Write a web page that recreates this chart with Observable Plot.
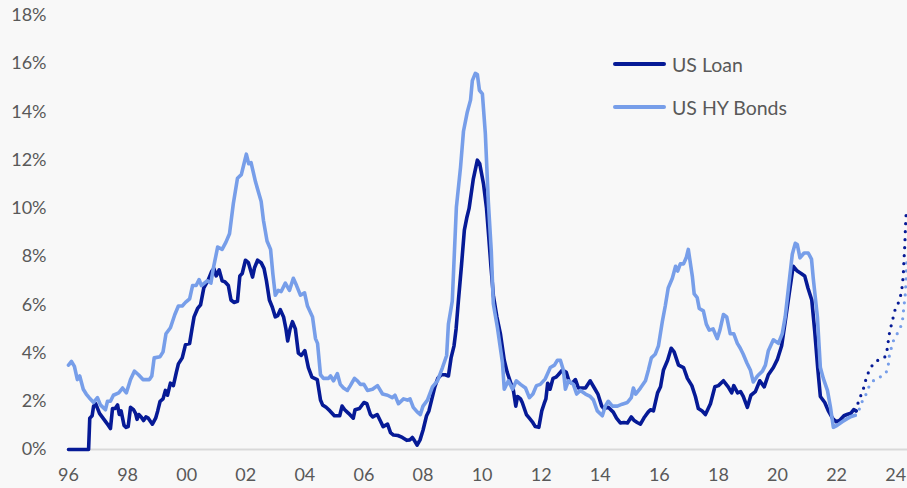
<!DOCTYPE html>
<html>
<head>
<meta charset="utf-8">
<script src="https://cdn.jsdelivr.net/npm/d3@7"></script>
<script src="https://cdn.jsdelivr.net/npm/@observablehq/plot@0.6"></script>
<style>
  html, body { margin: 0; padding: 0; background: #f8f8f8; }
  #wrap { position: relative; width: 907px; height: 488px; background: #f8f8f8; font-family: Lato, "Open Sans", sans-serif; }
  #legend { position: absolute; left: 613px; top: 0; }
  .item { position: absolute; left: 0; display: flex; align-items: center; white-space: nowrap; height: 24px; }
  .swatch { width: 53px; height: 4px; border-radius: 2px; margin-right: 6px; }
  .label { font-size: 19.5px; color: #595959; }
</style>
</head>
<body>
<div id="wrap">
  <div id="chart"></div>
  <div id="legend"></div>
</div>
<script>
// ---- Data (decimal years, default rates in %) ----
const seriesNames = ["US Loan", "US HY Bonds"];
const seriesColors = ["#061a96", "#779ee9"];

const loanYears = [1996.0,1996.68,1996.72,1996.8,1996.85,1996.92,1997.05,1997.2,1997.35,1997.42,1997.49,1997.58,1997.66,1997.72,1997.78,1997.88,1997.95,1998.02,1998.1,1998.2,1998.27,1998.32,1998.38,1998.46,1998.54,1998.62,1998.7,1998.84,1998.95,1999.02,1999.1,1999.2,1999.28,1999.35,1999.45,1999.55,1999.65,1999.72,1999.85,1999.96,2000.1,2000.18,2000.25,2000.37,2000.47,2000.58,2000.72,2000.85,2000.92,2001.0,2001.1,2001.2,2001.3,2001.41,2001.5,2001.6,2001.72,2001.8,2001.88,2001.99,2002.09,2002.23,2002.3,2002.4,2002.52,2002.62,2002.7,2002.8,2002.9,2003.0,2003.08,2003.17,2003.28,2003.36,2003.42,2003.5,2003.58,2003.68,2003.78,2003.88,2004.0,2004.12,2004.24,2004.42,2004.53,2004.6,2004.72,2004.85,2005.0,2005.18,2005.26,2005.35,2005.48,2005.64,2005.7,2005.85,2006.0,2006.1,2006.22,2006.3,2006.45,2006.55,2006.65,2006.8,2006.9,2007.0,2007.15,2007.3,2007.45,2007.56,2007.64,2007.72,2007.8,2007.9,2008.0,2008.12,2008.2,2008.3,2008.4,2008.5,2008.62,2008.75,2008.86,2008.95,2009.05,2009.12,2009.2,2009.3,2009.4,2009.48,2009.56,2009.7,2009.84,2009.92,2010.05,2010.15,2010.22,2010.3,2010.38,2010.5,2010.62,2010.75,2010.85,2010.96,2011.06,2011.14,2011.2,2011.3,2011.36,2011.5,2011.6,2011.7,2011.8,2011.92,2012.02,2012.1,2012.16,2012.22,2012.3,2012.4,2012.5,2012.58,2012.72,2012.85,2012.95,2013.05,2013.16,2013.26,2013.4,2013.5,2013.66,2013.8,2013.92,2014.05,2014.12,2014.27,2014.44,2014.55,2014.68,2014.8,2014.92,2015.05,2015.15,2015.25,2015.36,2015.5,2015.62,2015.7,2015.8,2015.94,2016.04,2016.14,2016.28,2016.4,2016.5,2016.65,2016.82,2016.95,2017.1,2017.22,2017.32,2017.45,2017.56,2017.73,2017.88,2018.0,2018.17,2018.33,2018.45,2018.52,2018.65,2018.75,2018.84,2018.98,2019.1,2019.25,2019.4,2019.55,2019.69,2019.86,2020.0,2020.14,2020.26,2020.4,2020.53,2020.67,2020.8,2020.92,2021.03,2021.16,2021.26,2021.36,2021.45,2021.6,2021.72,2021.86,2021.98,2022.1,2022.25,2022.35,2022.48,2022.58,2022.66];
const loanValues = [0,0,1.3,1.4,1.8,1.9,1.5,1.25,1.0,0.87,1.7,1.7,1.85,1.45,1.6,1.0,0.92,0.95,1.75,1.65,1.5,1.25,1.45,1.35,1.2,1.35,1.3,1.05,1.3,1.6,2.0,2.1,2.45,2.25,2.75,2.65,3.2,3.55,3.8,4.35,4.4,5.0,5.5,5.85,6.0,6.7,7.0,7.4,7.5,7.2,7.45,7.0,6.95,6.8,6.2,6.1,6.15,7.2,7.3,7.85,7.75,7.15,7.55,7.85,7.75,7.5,7.0,6.2,5.9,5.5,5.55,5.8,5.5,5.0,4.5,5.0,5.3,5.0,4.0,3.9,4.1,3.4,3.0,2.9,2.05,1.85,1.75,1.6,1.4,1.4,1.8,1.65,1.5,1.3,1.65,1.7,1.95,1.9,1.45,1.35,1.45,1.2,0.95,1.05,0.7,0.6,0.58,0.5,0.38,0.4,0.5,0.35,0.18,0.4,0.8,1.4,1.6,2.1,2.6,2.95,3.1,3.1,3.05,3.8,4.3,5.0,6.2,7.6,9.1,9.6,10.0,11.2,12.0,11.85,11.0,10.0,8.9,7.6,6.4,5.5,4.8,3.7,3.2,2.8,2.45,1.8,2.2,2.1,1.95,1.45,1.3,1.15,0.95,0.92,1.6,1.9,2.1,2.75,2.5,2.95,3.0,3.1,3.3,3.2,2.8,2.75,2.9,2.55,2.55,2.55,2.85,2.55,2.3,1.8,1.7,1.75,1.55,1.3,1.1,1.12,1.1,1.35,1.2,1.12,1.05,1.35,1.55,1.65,1.6,2.35,2.6,3.3,3.7,4.2,4.05,3.5,3.4,2.95,2.65,2.2,1.7,1.6,1.45,1.9,2.6,2.65,2.85,2.6,2.35,2.65,2.35,2.4,2.2,1.75,2.25,2.4,2.85,2.6,3.1,3.4,3.75,4.3,5.3,6.5,7.6,7.4,7.3,7.2,6.7,6.2,4.9,3.4,2.2,1.95,1.6,1.3,1.15,1.2,1.4,1.45,1.5,1.65,1.6];

const hyYears = [1996.0,1996.1,1996.2,1996.3,1996.38,1996.5,1996.6,1996.7,1996.85,1996.98,1997.08,1997.25,1997.32,1997.42,1997.52,1997.7,1997.83,1997.96,1998.1,1998.23,1998.37,1998.52,1998.74,1998.82,1998.9,1999.1,1999.2,1999.3,1999.45,1999.6,1999.72,1999.85,1999.96,2000.1,2000.2,2000.32,2000.42,2000.5,2000.7,2000.82,2000.9,2001.05,2001.2,2001.33,2001.45,2001.58,2001.72,2001.85,2001.93,2002.02,2002.1,2002.18,2002.33,2002.52,2002.6,2002.72,2002.84,2002.92,2003.0,2003.1,2003.2,2003.34,2003.48,2003.61,2003.72,2003.85,2003.99,2004.09,2004.26,2004.36,2004.43,2004.53,2004.63,2004.8,2004.87,2004.97,2005.1,2005.2,2005.31,2005.44,2005.54,2005.68,2005.78,2005.88,2006.0,2006.12,2006.29,2006.46,2006.63,2006.8,2006.96,2007.05,2007.17,2007.34,2007.47,2007.56,2007.67,2007.81,2007.91,2008.0,2008.15,2008.32,2008.49,2008.66,2008.8,2008.86,2008.99,2009.13,2009.27,2009.37,2009.5,2009.61,2009.67,2009.77,2009.84,2009.91,2010.01,2010.11,2010.21,2010.31,2010.38,2010.52,2010.69,2010.75,2010.89,2011.03,2011.16,2011.3,2011.47,2011.6,2011.72,2011.84,2011.97,2012.14,2012.31,2012.45,2012.55,2012.65,2012.75,2012.82,2012.92,2013.09,2013.2,2013.33,2013.5,2013.66,2013.77,2013.9,2014.07,2014.17,2014.27,2014.41,2014.58,2014.74,2014.92,2015.05,2015.12,2015.2,2015.36,2015.53,2015.63,2015.73,2015.86,2015.97,2016.1,2016.2,2016.3,2016.44,2016.55,2016.62,2016.71,2016.82,2016.91,2016.98,2017.12,2017.18,2017.28,2017.35,2017.49,2017.59,2017.69,2017.82,2017.96,2018.05,2018.17,2018.28,2018.4,2018.52,2018.64,2018.74,2018.84,2018.96,2019.08,2019.18,2019.32,2019.49,2019.59,2019.69,2019.86,2020.03,2020.16,2020.26,2020.37,2020.5,2020.6,2020.67,2020.76,2020.9,2021.04,2021.15,2021.21,2021.35,2021.45,2021.55,2021.69,2021.79,2021.89,2022.02,2022.19,2022.36,2022.5,2022.63];
const hyValues = [3.5,3.65,3.45,2.9,3.05,2.5,2.3,2.15,1.95,2.15,1.85,1.65,2.0,2.0,2.25,2.35,2.55,2.35,2.9,3.25,3.1,2.9,2.9,3.05,3.8,3.85,4.05,4.8,5.05,5.6,5.95,5.95,6.1,6.25,6.8,6.8,7.05,6.8,7.0,6.9,7.5,8.4,8.3,8.6,8.95,10.2,11.25,11.4,11.8,12.25,11.85,11.9,11.1,10.3,9.5,8.65,8.3,7.25,6.4,6.6,6.55,6.9,6.6,7.1,6.8,6.4,6.5,5.95,5.5,4.6,4.4,3.1,2.95,2.95,3.05,2.85,3.15,2.7,2.55,2.45,2.65,2.95,2.85,2.7,2.7,2.45,2.5,2.65,2.3,2.25,2.15,2.25,1.9,2.1,2.05,2.1,1.75,1.55,1.45,1.8,2.05,2.6,2.85,3.4,3.9,5.2,6.15,10.05,11.7,13.2,14.0,14.5,15.3,15.6,15.55,14.9,14.75,13.1,10.3,8.25,6.05,5.05,3.6,2.5,2.85,2.5,2.85,2.7,2.55,2.15,2.3,2.65,2.7,2.93,3.4,3.5,3.7,3.7,3.3,2.5,2.85,2.7,2.3,2.45,2.3,2.2,2.05,1.6,1.4,1.8,2.0,1.8,1.8,1.88,1.95,2.15,2.55,2.3,2.55,2.85,3.3,3.8,3.95,4.3,5.3,5.95,6.7,7.1,7.6,7.4,7.7,7.7,7.95,8.3,7.15,6.45,6.3,5.85,5.75,5.2,4.95,5.0,4.6,4.95,5.6,5.5,4.8,4.8,4.4,4.2,3.95,3.6,3.3,2.8,3.05,3.25,3.5,4.1,4.55,4.4,4.8,5.5,6.7,8.1,8.55,8.5,7.95,8.15,8.15,7.9,7.1,5.5,3.4,2.95,2.45,1.77,0.92,1.0,1.15,1.28,1.37,1.42];

// Projections (dotted)
const loanProjYears = [2022.66,2022.73,2022.84,2022.93,2023.0,2023.11,2023.24,2023.45,2023.65,2023.72,2023.76,2023.8,2023.92,2023.99,2024.12,2024.19,2024.23,2024.26,2024.28,2024.31,2024.33,2024.36];
const loanProjValues = [1.6,1.95,2.3,2.6,2.95,3.3,3.55,3.75,3.85,4.2,4.6,4.9,5.5,5.85,6.15,6.5,6.85,7.3,7.85,8.5,9.2,9.9];
const hyProjYears = [2022.63,2022.7,2022.87,2023.0,2023.11,2023.28,2023.55,2023.68,2023.75,2023.78,2023.85,2023.92,2024.05,2024.19,2024.25,2024.27,2024.3,2024.33,2024.35,2024.37];
const hyProjValues = [1.42,1.45,2.0,2.3,2.65,2.9,3.05,3.2,3.5,3.85,4.2,4.5,4.8,5.15,5.5,5.85,6.15,6.5,7.0,7.8];

// Axis ticks
const xTickYears = [1996,1998,2000,2002,2004,2006,2008,2010,2012,2014,2016,2018,2020,2022,2024];
const xTickLabels = ["96","98","00","02","04","06","08","10","12","14","16","18","20","22","24"];
const yTicks = [0,2,4,6,8,10,12,14,16,18];

// ---- Build tables ----
const zip = (xs, ys) => xs.map((x, i) => ({x, y: ys[i]}));
const loan = zip(loanYears, loanValues);
const hy = zip(hyYears, hyValues);
const loanProj = zip(loanProjYears, loanProjValues);
const hyProj = zip(hyProjYears, hyProjValues);

const axisFont = "Lato, 'Open Sans', sans-serif";
const chart = Plot.plot({
  width: 907,
  height: 488,
  marginLeft: 68,
  marginRight: 0,
  marginTop: 15,
  marginBottom: 39,
  style: "background: #f8f8f8; font-family: Lato, 'Open Sans', sans-serif; font-size: 18px; color: #595959; overflow: visible;",
  x: { domain: [1996, 2024.4], label: null },
  y: { domain: [0, 18], label: null },
  marks: [
    Plot.axisX(xTickYears, { tickSize: 0, tickPadding: 19, tickFormat: (d) => xTickLabels[xTickYears.indexOf(d)], fontSize: 18, fill: "#595959", fontFamily: axisFont, label: null }),
    Plot.axisY(yTicks, { tickSize: 0, tickPadding: 22, tickFormat: (d) => d + "%", fontSize: 18, fill: "#595959", fontFamily: axisFont, label: null }),
    Plot.ruleY([0], { stroke: "#d9d9d9", strokeWidth: 2 }),
    Plot.line(hyProj, { x: "x", y: "y", stroke: seriesColors[1], strokeWidth: 3.2, strokeDasharray: "0 8", strokeLinecap: "round" }),
    Plot.line(loanProj, { x: "x", y: "y", stroke: seriesColors[0], strokeWidth: 3.2, strokeDasharray: "0 8", strokeLinecap: "round" }),
    Plot.line(loan, { x: "x", y: "y", stroke: seriesColors[0], strokeWidth: 3.6, strokeLinejoin: "round", strokeLinecap: "round" }),
    Plot.line(hy, { x: "x", y: "y", stroke: seriesColors[1], strokeWidth: 3.6, strokeLinejoin: "round", strokeLinecap: "round" })
  ]
});
document.getElementById("chart").appendChild(chart);

// Legend
const legend = document.getElementById("legend");
const legendTops = [52, 95];
seriesNames.forEach((name, i) => {
  const item = document.createElement("div");
  item.className = "item";
  item.style.top = legendTops[i] + "px";
  const sw = document.createElement("div");
  sw.className = "swatch";
  sw.style.background = seriesColors[i];
  const lb = document.createElement("span");
  lb.className = "label";
  lb.textContent = name;
  item.appendChild(sw);
  item.appendChild(lb);
  legend.appendChild(item);
});
</script>
</body>
</html>
